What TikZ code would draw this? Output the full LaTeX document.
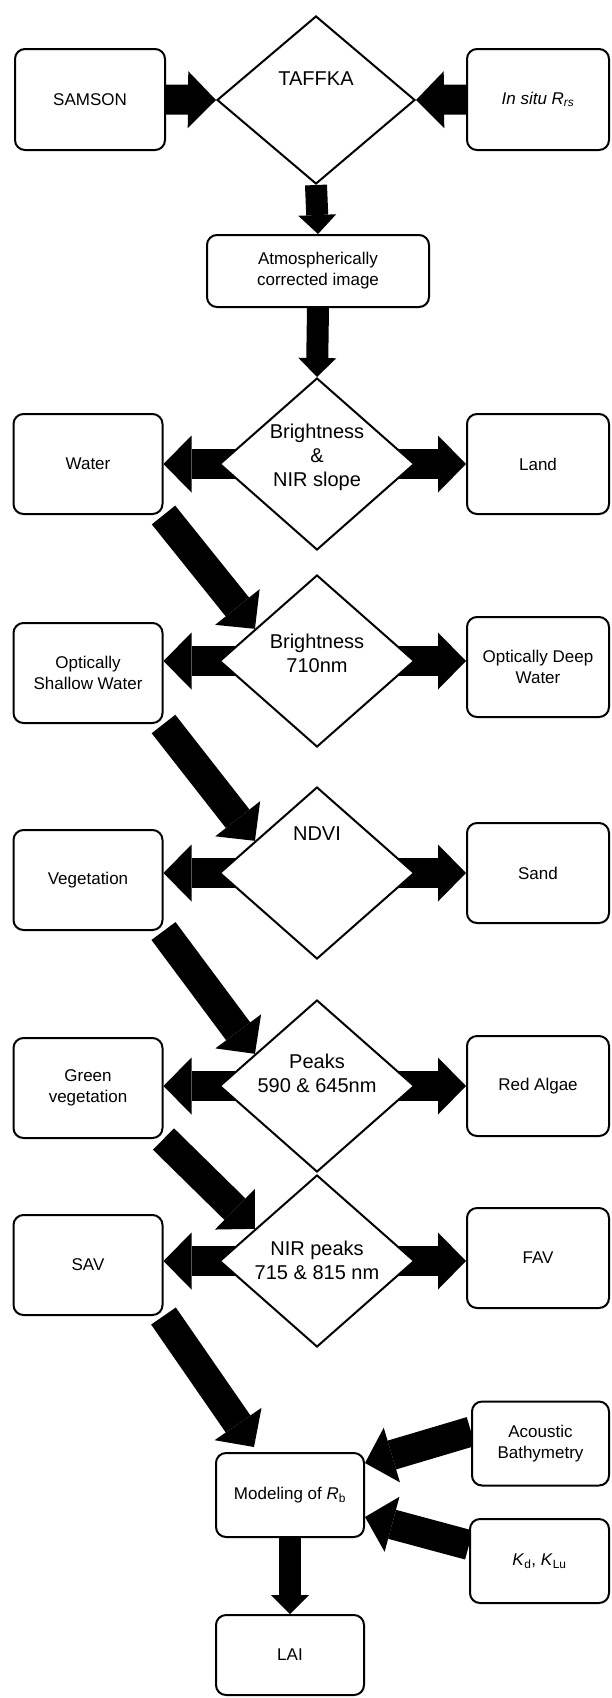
\documentclass[tikz,border=0pt]{standalone}
\usepackage{fontspec}
\setmainfont{Liberation Sans}
\usetikzlibrary{arrows.meta,calc,backgrounds,shapes.geometric}
\begin{document}
\begin{tikzpicture}[x=1pt,y=-1pt,
  box/.style={draw,line width=2pt,rounded corners=10pt,fill=white,align=center,
    font=\fontsize{17}{21}\selectfont,inner sep=0pt},
  lbox/.style={box,minimum width=149pt,minimum height=100pt},
  rbox/.style={box,minimum width=142pt,minimum height=100pt},
  dec/.style={draw,diamond,line width=2pt,fill=white,inner sep=0pt,
    minimum width=195pt,minimum height=172pt},
  dectext/.style={align=center,font=\fontsize{20}{24}\selectfont,inner sep=0pt},
  fat/.style={line width=30pt,-{Triangle[length=28pt,width=57pt,line width=0pt]}},
  vfat/.style={line width=22pt,-{Triangle[length=19pt,width=38pt,line width=0pt]}}]
\useasboundingbox (0,0) rectangle (611,1698);

% row 1
\node[lbox,minimum width=150pt,minimum height=101pt] (samson) at (90,99.5) {SAMSON};
\node[dec,minimum width=198pt,minimum height=168pt] (taffka) at (316,100) {};
\node[dectext] (taffkat) at (316,79) {TAFFKA};
\node[rbox,minimum height=101pt] (insitu) at (538,99.5) {\textit{In situ R\textsubscript{rs}}};
\node[box,minimum width=222pt,minimum height=72pt] (atmos) at (318,271) {Atmospherically\\corrected image};

% row 2
\node[dec] (d2) at (317,464) {};
\node[dectext] (d2t) at (317,457) {Brightness\\\&\\NIR slope};
\node[lbox] (water) at (88,464) {Water};
\node[rbox] (land) at (538,464) {Land};

% row 3
\node[dec] (d3) at (317,661) {};
\node[dectext] (d3t) at (317,653) {Brightness\\710nm};
\node[lbox] (shallow) at (88,673) {Optically\\Shallow Water};
\node[rbox] (deep) at (538,667) {Optically Deep\\Water};

% row 4
\node[dec] (d4) at (317,873) {};
\node[dectext] (d4t) at (317,834) {NDVI};
\node[lbox] (veg) at (88,880) {Vegetation};
\node[rbox] (sand) at (538,873) {Sand};

% row 5
\node[dec] (d5) at (317,1086) {};
\node[dectext] (d5t) at (317,1073) {Peaks\\590 \& 645nm};
\node[lbox] (green) at (88,1088) {Green\\vegetation};
\node[rbox] (red) at (538,1086) {Red Algae};

% row 6
\node[dec] (d6) at (317,1261) {};
\node[dectext] (d6t) at (317,1260) {NIR peaks\\715 \& 815 nm};
\node[lbox] (sav) at (88,1265) {SAV};
\node[rbox] (fav) at (538,1258) {FAV};

% bottom
\node[box,minimum width=137pt,minimum height=84pt] (acoustic) at (540.5,1443.5) {Acoustic\\Bathymetry};
\node[box,minimum width=139pt,minimum height=84pt] (kd) at (539.5,1561) {\textit{K}\textsubscript{d}, \textit{K}\textsubscript{Lu}};
\node[box,minimum width=148pt,minimum height=84pt] (model) at (290,1495) {Modeling of \textit{R}\textsubscript{b}};
\node[box,minimum width=148pt,minimum height=80pt] (lai) at (290,1655) {LAI};

\begin{scope}[on background layer]
  \draw[fat] (samson.east) -- (taffka.west);
  \draw[fat] (insitu.west) -- (taffka.east);
  \draw[vfat] (taffka.south) -- (atmos.north);
  \draw[vfat] (atmos.south) -- (d2.north);
  \draw[fat] (d2.center) -- (water.east |- d2.center);
  \draw[fat] (d2.center) -- (land.west |- d2.center);
  \draw[fat] (water.south east) -- ($(d3.west)!0.37!(d3.north)$);
  \draw[fat] (d3.center) -- (shallow.east |- d3.center);
  \draw[fat] (d3.center) -- (deep.west |- d3.center);
  \draw[fat] (shallow.south east) -- ($(d4.west)!0.37!(d4.north)$);
  \draw[fat] (d4.center) -- (veg.east |- d4.center);
  \draw[fat] (d4.center) -- (sand.west |- d4.center);
  \draw[fat] (veg.south east) -- ($(d5.west)!0.37!(d5.north)$);
  \draw[fat] (d5.center) -- (green.east |- d5.center);
  \draw[fat] (d5.center) -- (red.west |- d5.center);
  \draw[fat] (green.south east) -- ($(d6.west)!0.37!(d6.north)$);
  \draw[fat] (d6.center) -- (sav.east |- d6.center);
  \draw[fat] (d6.center) -- (fav.west |- d6.center);
  \draw[fat] (sav.south east) -- ($(model.north west)+(39,-5)$);
  \draw[fat] ($(acoustic.west)+(0,-12)$) -- ($(model.east)+(0,-32)$);
  \draw[fat] ($(kd.west)+(0,-16)$) -- ($(model.east)+(0,22)$);
  \draw[vfat] (model.south) -- (lai.north);
\end{scope}
\end{tikzpicture}
\end{document}
